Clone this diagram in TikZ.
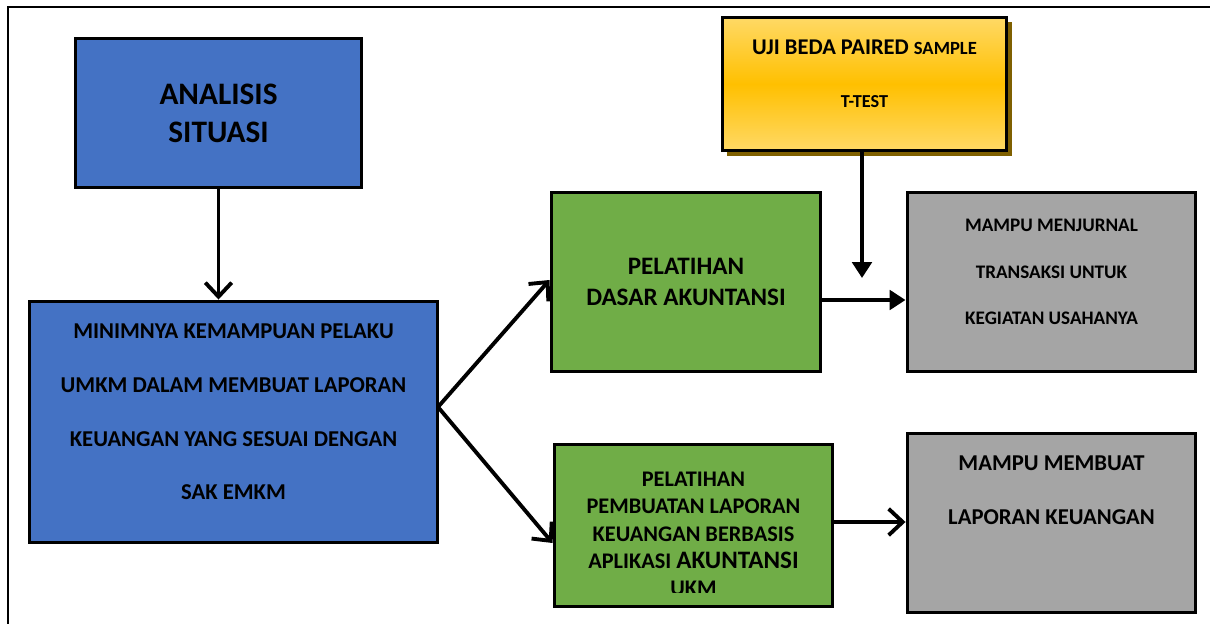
\documentclass[tikz,border=0pt]{standalone}
\usepackage{fontspec}
\setmainfont{Carlito}
\usetikzlibrary{positioning,shapes,shadows,arrows.meta}
\definecolor{boxblue}{HTML}{4472C4}
\definecolor{boxgreen}{HTML}{70AD47}
\definecolor{boxgray}{HTML}{A5A5A5}
\definecolor{goldlight}{HTML}{FFD966}
\definecolor{gold}{HTML}{FFC000}
\definecolor{shadowbrown}{HTML}{7F6000}
\tikzstyle{kotak} = [rectangle, draw=black, line width=1.7pt, inner sep=0pt]
\tikzstyle{biru} = [kotak, fill=boxblue]
\tikzstyle{hijau} = [kotak, fill=boxgreen]
\tikzstyle{abu} = [kotak, fill=boxgray, minimum width=5.78cm, minimum height=3.6cm]
\tikzstyle{kuning} = [kotak, top color=goldlight, bottom color=goldlight, middle color=gold, drop shadow={shadow xshift=3pt, shadow yshift=-3pt, fill=shadowbrown, opacity=1}]
\tikzstyle{teks} = [align=center, text centered]
\tikzstyle{panah} = [line width=2.2pt, -{Straight Barb[length=8pt,width=15pt]}]
\tikzstyle{panahisi} = [line width=2.2pt, -{Triangle[length=9pt,width=11pt]}]
\newcommand{\fs}[2]{\fontsize{#1}{#2}\selectfont\bfseries}

\begin{document}
\begin{tikzpicture}[x=0.02cm, y=-0.02cm]
\useasboundingbox (0,0) rectangle (1210,624);
\draw [line width=1pt] (8,624) -- (8,7) -- (1210,7);

\node (analisis) [biru, minimum width=5.74cm, minimum height=3cm, teks, font=\fs{17.8}{21.5}] at (218.5,113) {ANALISIS\\SITUASI};

\node (masalah) [biru, minimum width=8.18cm, minimum height=4.84cm] at (233.5,422) {};
\node (masalah_t) [teks, font=\fs{12.9}{30.6}, yshift=0.2cm] at (masalah) {MINIMNYA KEMAMPUAN PELAKU\\UMKM DALAM MEMBUAT LAPORAN\\KEUANGAN YANG SESUAI DENGAN\\SAK EMKM};
\draw [panah] (analisis.south) -- (analisis.south |- masalah.north);

\node (dasar) [hijau, minimum width=5.4cm, minimum height=3.6cm, teks, font=\fs{14.3}{18}] at (686,282) {PELATIHAN\\DASAR AKUNTANSI};

\node (laporan) [hijau, minimum width=5.58cm, minimum height=3.26cm] at (693.5,525.5) {};
\begin{scope}
\clip (554,444) rectangle (833,592);
\node (laporan_t) [teks, font=\fs{12.7}{15.5}, yshift=-0.17cm] at (laporan) {PELATIHAN\\PEMBUATAN LAPORAN\\KEUANGAN BERBASIS\\APLIKASI {\fs{14.3}{16.5}AKUNTANSI}\\UKM};
\end{scope}

\coordinate (cabang) at (438,407);
\draw [panah] (cabang) -- (dasar.west |- 0,280);
\draw [panah] (cabang) -- (laporan.west |- 0,543);

\node (ujibeda) [kuning, minimum width=5.7cm, minimum height=2.68cm] at (864.5,84) {};
\node (ujibeda_t) [teks, font=\fs{12.8}{30}, yshift=0.2cm] at (ujibeda) {UJI BEDA PAIRED {\fs{10.6}{30}SAMPLE}\\{\fs{10.4}{30}T-TEST}};

\node (jurnal) [abu] at (1051.5,282) {};
\node (jurnal_t) [teks, font=\fs{10.9}{26.6}, yshift=0.2cm] at (jurnal) {MAMPU MENJURNAL\\TRANSAKSI UNTUK\\KEGIATAN USAHANYA};

\node (mampu) [abu] at (1051.5,523) {};
\node (mampu_t) [teks, font=\fs{12.9}{31}, yshift=0.66cm] at (mampu) {MAMPU MEMBUAT\\LAPORAN KEUANGAN};

\coordinate (ujung) at (862,278);
\draw [panahisi] (ujibeda.south -| ujung) -- (ujung);
\draw [panahisi] (dasar.east |- 0,300) -- (jurnal.west |- 0,300);
\draw [panah] (laporan.east |- 0,522) -- (mampu.west |- 0,522);
\end{tikzpicture}
\end{document}
